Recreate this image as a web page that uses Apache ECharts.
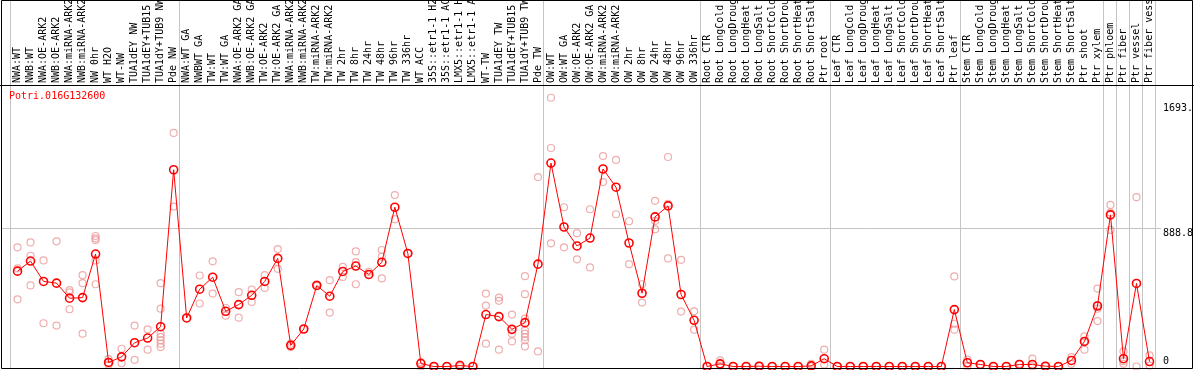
<!DOCTYPE html>
<html>
<head>
<meta charset="utf-8">
<script src="https://cdn.jsdelivr.net/npm/echarts@6/dist/echarts.min.js"></script>
<style>html,body{margin:0;padding:0;background:#fff;}#c{width:1194px;height:370px;}</style>
</head>
<body>
<div id="c"></div>
<script>
const geneId = 'Potri.016G132600';
const categories = [
 'NWA:WT','NWB:WT','NWA:OE-ARK2','NWB:OE-ARK2','NWA:miRNA-ARK2','NWB:miRNA-ARK2','NW 0hr','WT H2O','WT-NW','TUA1dEY NW','TUA1dEY+TUB15 NW','TUA1dY+TUB9 NW','Pde NW',
 'NWA:WT GA','NWBWT GA','TW:WT','TW:WT GA','NWA:OE-ARK2 GA','NWB:OE-ARK2 GA','TW:OE-ARK2','TW:OE-ARK2 GA','NWA:miRNA-ARK2','NWB:miRNA-ARK2','TW:miRNA-ARK2','TW:miRNA-ARK2 ',
 'TW 2hr','TW 8hr','TW 24hr','TW 48hr','TW 96hr','TW 336hr','WT ACC','35S::etr1-1 H2O','35S::etr1-1 ACC','LMX5::etr1-1 H2O','LMX5::etr1-1 ACC','WT-TW','TUA1dEY TW','TUA1dEY+TUB15 TW','TUA1dY+TUB9 TW','Pde TW',
 'OW:WT','OW:WT GA','OW:OE-ARK2','OW:OE-ARK2 GA','OW:miRNA-ARK2','OW:miRNA-ARK2 ','OW 2hr','OW 8hr','OW 24hr','OW 48hr','OW 96hr','OW 336hr',
 'Root CTR','Root LongCold','Root LongDrought','Root LongHeat','Root LongSalt','Root ShortCold','Root ShortDrought','Root ShortHeat','Root ShortSalt','Ptr root',
 'Leaf CTR','Leaf LongCold','Leaf LongDrought','Leaf LongHeat','Leaf LongSalt','Leaf ShortCold','Leaf ShortDrought','Leaf ShortHeat','Leaf ShortSalt','Ptr leaf',
 'Stem CTR','Stem LongCold','Stem LongDrought','Stem LongHeat','Stem LongSalt','Stem ShortCold','Stem ShortDrought','Stem ShortHeat','Stem ShortSalt','Ptr shoot','Ptr xylem',
 'Ptr phloem','Ptr fiber','Ptr vessel','Ptr fiber vessel'
];
const means = [
 613,678,547,536,439,443,723,26,62,153,183,256,1265,
 312,497,574,355,398,458,547,695,136,241,521,452,
 611,646,592,670,1024,727,19,0,0,6,0,334,321,239,282,658,
 1308,897,775,826,1270,1153,794,471,962,1033,463,297,
 0,17,0,0,2,0,0,0,4,50,
 0,0,0,0,0,0,0,0,0,366,
 24,13,0,0,13,13,2,0,39,161,389,
 975,50,534,32
];
const replicates = [
 [766,631,432],[798,712,521],[682,278],[805,263],[491,476,368],[587,536,211],[839,824,813,682,529],[47,26,11],[114,21],[263,43],[239,108],[536,372,211,189,168,147,125],[1502,1028],
 [312],[585,405],[676,469],[376,327],[478,314],[495,415],[587,505],[755,628],[147,125],[241],[529,518],[555,347],
 [641,576],[740,671,529],[609,587],[749,706,566],[1102,947],[727],[28,0],[0],[0],[13,0],[0],[469,392,147],[443,422,108],[334,211,161],[581,465,308,232,211,189,168,129],[1218,97],
 [1728,1405,792],[1024,766],[857,689],[1011,637],[1353,1186],[1328,979],[934,658],[529,411],[1065,936,882],[1347,1046,695],[686,353],[355,237],
 [0],[39,6],[0],[0],[6,0],[0],[0],[0],[17,0],[108,13],
 [0],[0],[0],[0],[0],[0],[0],[0],[0],[579,275,237],
 [45,0],[13],[0],[0],[17],[50,0],[0],[0],[60,17],[194,163,108],[501,394,372,292],
 [1039,990,878],[97,34,17],[1089,0],[71,6]
];
const groupBoundaries = [0,13,41,53,63,73,84,85,86,87,88];
const yTickValues = [0, 888.8, 1693];
const yTickLabels = ['0', '888.8', '1693.'];
const gridValue = 888.8;

const FONT = 'DejaVu Sans Mono';
const repData = [];
replicates.forEach((arr, i) => arr.forEach(v => repData.push([i, v])));

const chart = echarts.init(document.getElementById('c'), null, {renderer: 'canvas'});
chart.setOption({
  animation: false,
  backgroundColor: '#ffffff',
  title: {text: geneId, left: 9, top: 91, padding: 0,
    textStyle: {color: '#ff0000', fontSize: 10, fontWeight: 'normal', fontFamily: FONT}},
  grid: {left: 11, right: 38, top: 85, bottom: 3.5, containLabel: false, outerBoundsMode: 'none'},
  xAxis: {type: 'category', data: categories, position: 'top', boundaryGap: true,
    axisLine: {show: false}, axisTick: {show: false}, splitLine: {show: false},
    axisLabel: {interval: 0, rotate: 90, margin: 2, fontSize: 10, fontFamily: FONT, color: '#000'}},
  yAxis: {type: 'value', position: 'right', min: 0, max: 1810,
    axisLine: {show: false}, axisTick: {show: false}, splitLine: {show: false},
    axisLabel: {customValues: yTickValues,
      formatter: v => { const k = yTickValues.indexOf(v); return k >= 0 ? yTickLabels[k] : ''; },
      margin: 7, fontSize: 10, fontFamily: FONT, color: '#000',
      verticalAlign: 'top', verticalAlignMinLabel: 'bottom'}},
  series: [
    {type: 'scatter', data: repData, symbol: 'circle', symbolSize: 7, silent: true, z: 2,
      itemStyle: {color: 'rgba(0,0,0,0)', borderColor: '#eb9a9a', borderWidth: 1.2}},
    {type: 'line', data: means, symbol: 'circle', symbolSize: 8, z: 3, clip: false,
      lineStyle: {color: '#ff0000', width: 1},
      itemStyle: {color: 'rgba(0,0,0,0)', borderColor: '#ff0000', borderWidth: 1.6}}
  ]
});

const c0 = chart.convertToPixel({xAxisIndex: 0}, 0);
const c1 = chart.convertToPixel({xAxisIndex: 0}, 1);
const band = c1 - c0;
const gy = Math.round(chart.convertToPixel({yAxisIndex: 0}, gridValue)) + 0.5;
const graphics = [];
groupBoundaries.forEach(k => {
  const x = Math.round(c0 + (k - 0.5) * band) - 0.5;
  graphics.push({type: 'line', z: 0, silent: true,
    shape: {x1: x, y1: 0, x2: x, y2: 368}, style: {stroke: '#c4c4c4', lineWidth: 1}});
});
graphics.push({type: 'line', z: 0, silent: true,
  shape: {x1: 2, y1: gy, x2: 1161, y2: gy}, style: {stroke: '#c4c4c4', lineWidth: 1}});
graphics.push({type: 'line', z: 10, silent: true,
  shape: {x1: 0, y1: 85.5, x2: 1194, y2: 85.5}, style: {stroke: '#000', lineWidth: 1}});
graphics.push({type: 'rect', z: 10, silent: true,
  shape: {x: 1.5, y: 0.5, width: 1191, height: 368}, style: {stroke: '#000', fill: null, lineWidth: 1}});
chart.setOption({graphic: graphics});
</script>
</body>
</html>
